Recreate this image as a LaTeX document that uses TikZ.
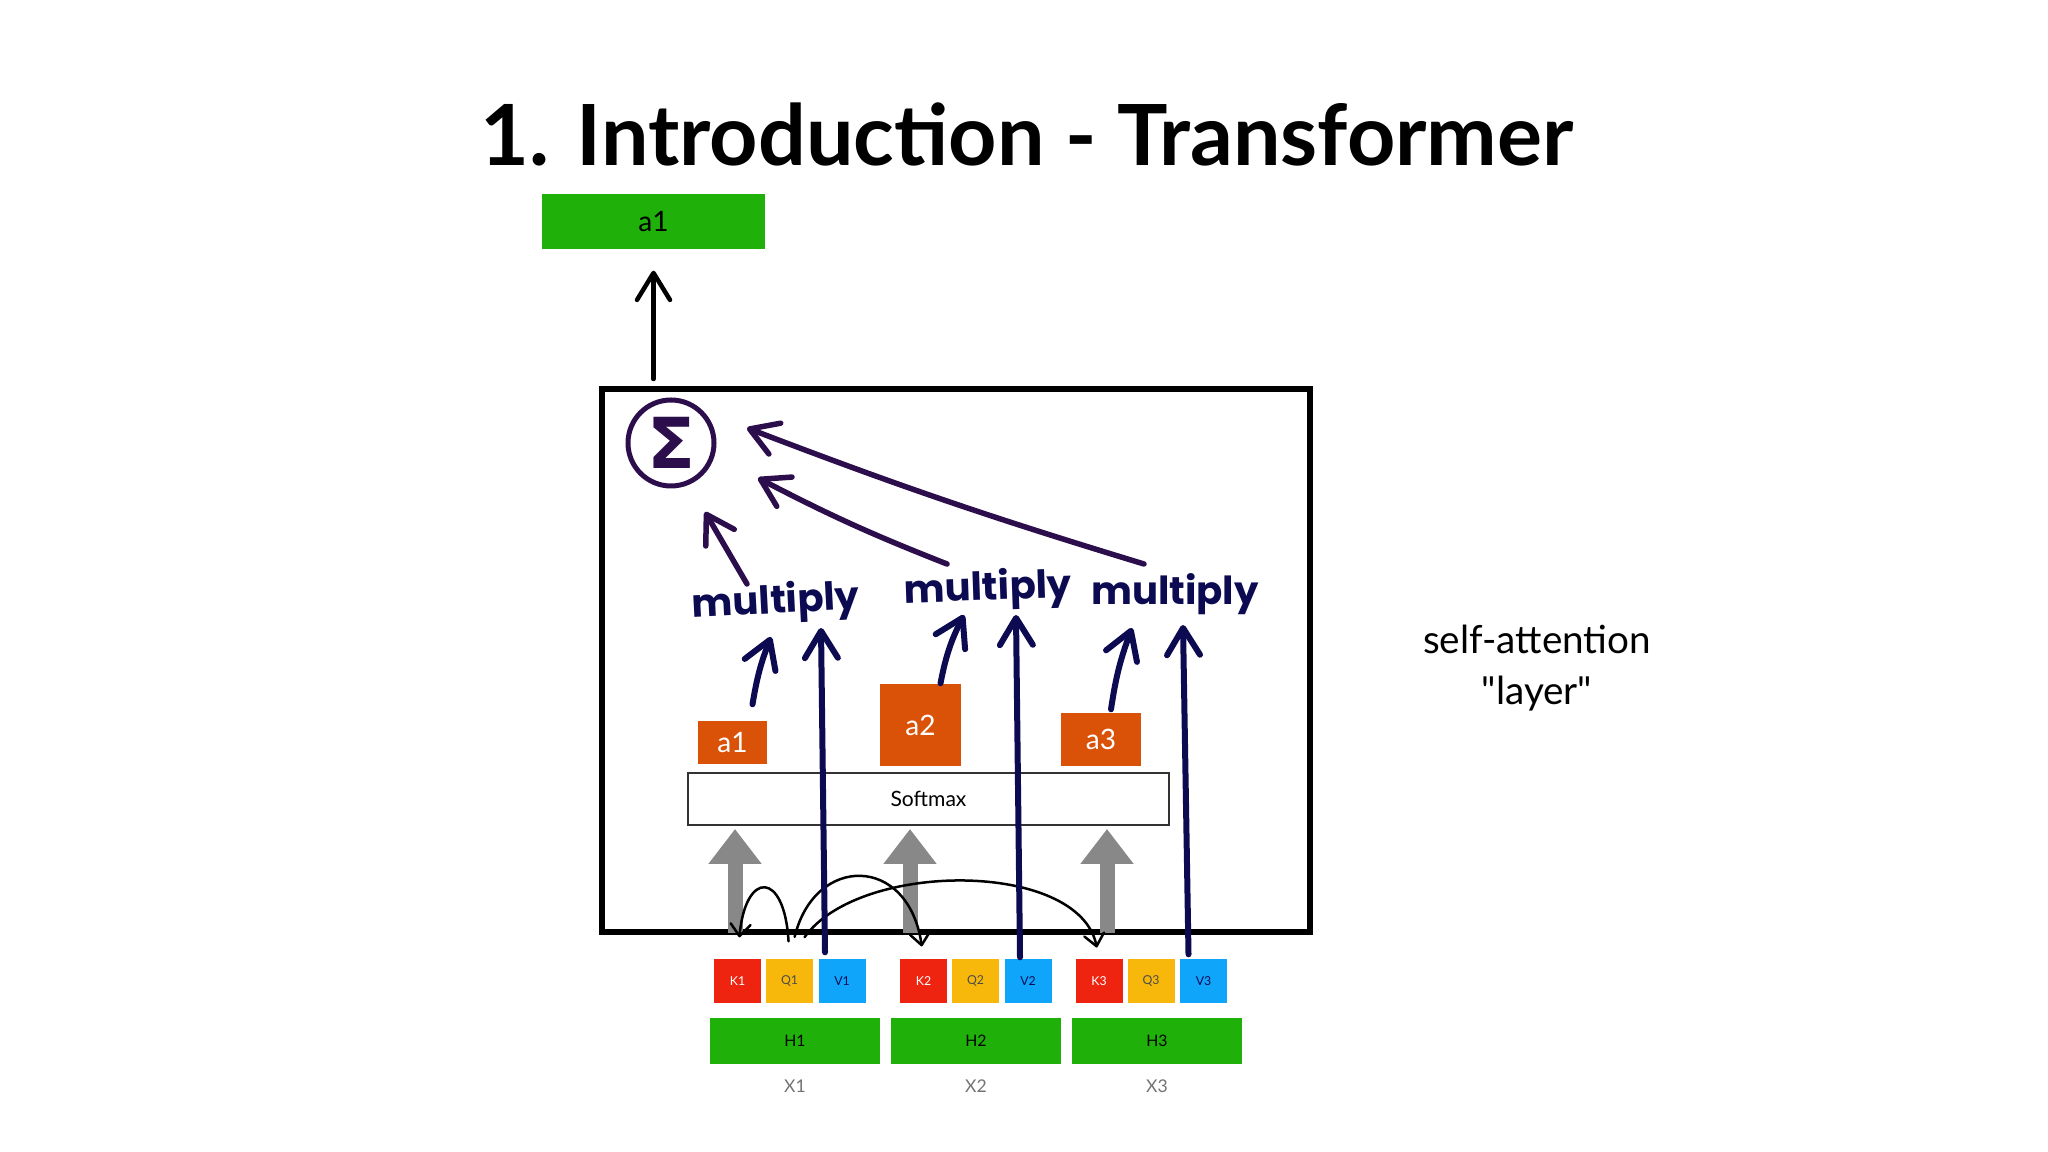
\documentclass[tikz,border=0pt]{standalone}
\usepackage{fontspec}
\setmainfont{Lato}
\newfontfamily\handfont{Poppins}
\newfontfamily\sigmafont{DejaVu Sans}
\usetikzlibrary{arrows.meta, positioning, calc}

\definecolor{outgreen}{HTML}{20B00A}
\definecolor{wgtorange}{HTML}{DA5208}
\definecolor{keyred}{HTML}{EE2411}
\definecolor{qryyellow}{HTML}{F7B80B}
\definecolor{valblue}{HTML}{0EA5FB}
\definecolor{navyink}{HTML}{0C0B52}
\definecolor{purpleink}{HTML}{2C0E4C}
\definecolor{greyarrow}{HTML}{888888}

\begin{document}
\begin{tikzpicture}[
    x=0.1mm, y=-0.1mm,
    line cap=round,
    >={Straight Barb[length=2.7mm, width=3.3mm, round]}
]
    \tikzset{
        caja/.style={inner sep=0pt, minimum height=4.4mm, minimum width=4.7mm, font=\fontsize{3.5}{4}\selectfont},
        peso/.style={fill=wgtorange, text=white, inner sep=0pt, font=\fontsize{8}{9}\selectfont},
        oculto/.style={fill=outgreen, inner sep=0pt, minimum width=17mm, minimum height=4.6mm, font=\fontsize{4.5}{5}\selectfont},
        mult/.style={text=navyink, font=\handfont\bfseries\fontsize{11}{12}\selectfont, inner sep=1pt},
        tinta/.style={draw=navyink, line width=0.6mm, ->},
        morado/.style={draw=purpleink, line width=0.55mm, ->},
        salto/.style={draw=black, line width=0.25mm, -{Straight Barb[length=1.2mm, width=2mm, round]}},
        gris/.style={draw=greyarrow, line width=1.5mm, line cap=butt, -{Triangle[width=5.1mm, length=3.5mm]}}
    }
    \useasboundingbox (0,0) rectangle (2048,1152);

    % Titulo
    \node[anchor=base, font=\fontsize{24}{28}\selectfont\bfseries] (titulo) at (1027,166) {1. Introduction - Transformer};
    \node[anchor=center, align=center, font=\fontsize{11}{14.5}\selectfont] (capa) at (1537,668) {self-attention\\\textquotedbl layer\textquotedbl};

    % Nodos
    \node[fill=outgreen, inner sep=0pt, minimum width=22.3mm, minimum height=5.5mm, font=\fontsize{8}{9}\selectfont] (salida) at (653.5,221.5) {a1};
    \node[draw, line width=0.6mm, inner sep=0pt, minimum width=70.8mm, minimum height=54.3mm] (layer) at (956,660.5) {};
    \node[draw=black!80, fill=white, line width=0.2mm, inner sep=0pt, minimum width=48.1mm, minimum height=5.2mm, font=\fontsize{6}{7}\selectfont] (softmax) at (928.5,799) {Softmax};

    \node[peso, minimum width=6.9mm, minimum height=4.3mm] (w1) at (732.5,742.5) {a1};
    \node[peso, minimum width=8.1mm, minimum height=8.2mm] (w2) at (920.5,725) {a2};
    \node[peso, minimum width=8.0mm, minimum height=5.3mm] (w3) at (1101,739.5) {a3};

    \foreach \i/\x/\h in {1/737.5/795, 2/923.5/976, 3/1099/1157}{
        \node[caja, fill=keyred, text=white] (k\i) at (\x,981) {K\i};
        \node[caja, fill=qryyellow, text=black!70] (q\i) at (\x+52,981) {Q\i};
        \node[caja, fill=valblue, text=navyink] (v\i) at (\x+104.5,981) {V\i};
        \node[oculto] (h\i) at (\h,1041) {H\i};
        \node[text=black!55, font=\fontsize{5}{6}\selectfont] (x\i) at (\h,1086) {X\i};
    }

    \node[mult, rotate=3] (m1) at (776,603) {multiply};
    \node[mult, rotate=2] (m2) at (988,590) {multiply};
    \node[mult] (m3) at (1175,594) {multiply};
    \node[circle, draw=purpleink, line width=0.5mm, minimum size=8.6mm, inner sep=0pt, text=purpleink, font=\sigmafont\bfseries\fontsize{20}{21}\selectfont] (sigma) at (671,443) {Σ};

    % Flechas
    \draw[line width=0.45mm, ->, shorten <=0.7mm, shorten >=2.1mm] (layer.north -| salida) -- (salida.south);

    \foreach \g in {735, 910, 1107}{
        \coordinate (g\g) at (\g,933);
        \draw[gris, shorten >=0.3mm] (g\g) -- (g\g |- softmax.south);
    }

    \draw[salto, shorten <=1.7mm, shorten >=2.1mm] (q1.north) .. controls +(-5,-88) and +(8,-88) .. (k1.north);
    \draw[salto, shorten <=2.2mm, shorten >=1.2mm] (q1.north) .. controls +(25,-104) and +(-15,-104) .. (k2.north);
    \draw[salto, shorten <=2.6mm, shorten >=1.1mm] (q1.north) .. controls +(70,-98) and +(-20,-98) .. (k3.north);

    \draw[tinta] ([shift={(-17,-6)}]v1.north) -- ($(m1)+(45,25)$);
    \draw[tinta] ([shift={(-8,-1)}]v2.north) -- ($(m2)+(28,25)$);
    \draw[tinta] ([shift={(-15,-4)}]v3.north) -- ($(m3)+(8,31)$);

    \draw[tinta] ([shift={(20,-16)}]w1.north) to[bend left=6] ($(m1)+(-5,34)$);
    \draw[tinta] ([shift={(20,0)}]w2.north) to[bend left=8] ($(m2)+(-24,25)$);
    \draw[tinta] ([shift={(10,-3)}]w3.north) to[bend left=6] ($(m3)+(-43,34)$);

    \draw[morado] ($(m1)+(-29,-19)$) -- ($(sigma)+(34,69)$);
    \draw[morado] ($(m2)+(-41,-26)$) to[bend left=3] ($(sigma)+(87,35)$);
    \draw[morado] ($(m3)+(-31,-30)$) to[bend left=2] ($(sigma)+(76,-15)$);
\end{tikzpicture}
\end{document}
